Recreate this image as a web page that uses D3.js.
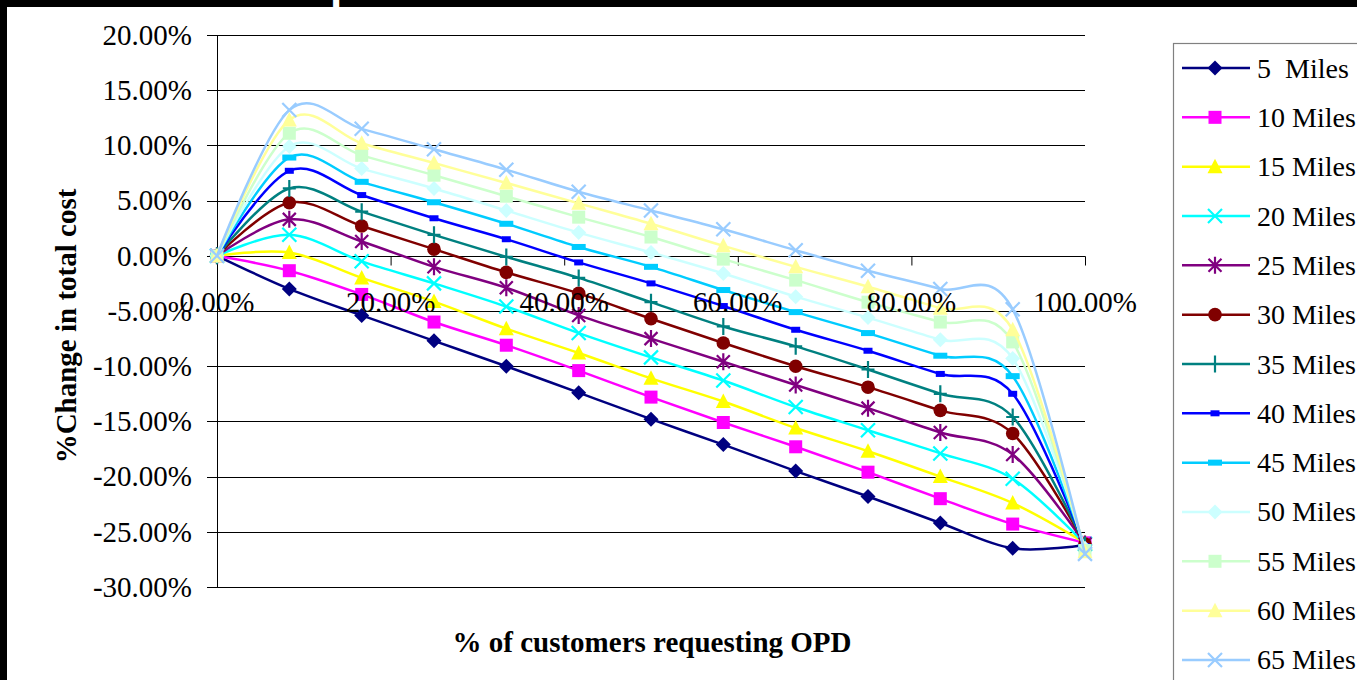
<!DOCTYPE html>
<html>
<head>
<meta charset="utf-8">
<script src="https://cdn.jsdelivr.net/npm/d3@7"></script>
<style>
html,body{margin:0;padding:0;background:#fff;overflow:hidden;}
svg{display:block;}
text{font-family:"Liberation Serif","Times New Roman",serif;}
</style>
</head>
<body>
<svg id="chart" width="1357" height="680"></svg>
<script>
// ---- data ----
const xValues = [0, 8.33, 16.67, 25, 33.33, 41.67, 50, 58.33, 66.67, 75, 83.33, 91.67, 100];
const xTicks = [0, 20, 40, 60, 80, 100];
const yTicks = [20, 15, 10, 5, 0, -5, -10, -15, -20, -25, -30];
const seriesNames = ["5  Miles","10 Miles","15 Miles","20 Miles","25 Miles","30 Miles","35 Miles","40 Miles","45 Miles","50 Miles","55 Miles","60 Miles","65 Miles"];
const miles5  = [0, -3.0, -5.4, -7.7, -10.0, -12.4, -14.8, -17.1, -19.5, -21.8, -24.2, -26.5, -26.2];
const miles10 = [0, -1.35, -3.5, -6.0, -8.1, -10.4, -12.8, -15.1, -17.3, -19.6, -22.0, -24.3, -26.0];
const miles15 = [0, 0.3, -2.0, -4.15, -6.6, -8.8, -11.1, -13.2, -15.6, -17.7, -20.0, -22.4, -26.0];
const miles20 = [0, 1.9, -0.5, -2.5, -4.6, -7.0, -9.2, -11.3, -13.7, -15.8, -17.9, -20.2, -26.1];
const miles25 = [0, 3.3, 1.3, -1.0, -2.9, -5.4, -7.5, -9.6, -11.7, -13.8, -16.0, -18.0, -26.1];
const miles30 = [0, 4.8, 2.7, 0.6, -1.5, -3.4, -5.7, -7.9, -10.0, -11.9, -14.0, -16.1, -26.1];
const miles35 = [0, 6.1, 4.0, 1.9, -0.1, -2.0, -4.2, -6.4, -8.2, -10.3, -12.5, -14.6, -26.2];
const miles40 = [0, 7.7, 5.5, 3.4, 1.5, -0.6, -2.5, -4.55, -6.7, -8.6, -10.7, -12.5, -26.3];
const miles45 = [0, 8.9, 6.7, 4.85, 2.9, 0.8, -1.0, -3.1, -5.1, -7.0, -9.05, -10.9, -26.4];
const miles50 = [0, 9.9, 7.9, 6.1, 4.1, 2.1, 0.3, -1.6, -3.7, -5.6, -7.6, -9.3, -26.5];
const miles55 = [0, 11.1, 9.1, 7.3, 5.4, 3.5, 1.7, -0.3, -2.2, -4.2, -6.0, -7.8, -26.7];
const miles60 = [0, 12.3, 10.2, 8.4, 6.6, 4.75, 2.9, 0.9, -1.0, -2.8, -4.75, -6.7, -26.8];
const miles65 = [0, 13.2, 11.5, 9.65, 7.8, 5.8, 4.1, 2.4, 0.5, -1.35, -3.0, -4.85, -27.0];
const seriesValues = [miles5, miles10, miles15, miles20, miles25, miles30, miles35, miles40, miles45, miles50, miles55, miles60, miles65];
const seriesColors = ["#000080","#FF00FF","#FFFF00","#00FFFF","#800080","#800000","#008080","#0000FF","#00CCFF","#CCFFFF","#CCFFCC","#FFFF99","#99CCFF"];
const seriesMarkers = ["diamond","square","triangle","x","star","circle","plus","dash","longdash","diamond","square","triangle","x"];

// ---- layout ----
const svg = d3.select("#chart");
const plot = {left: 217, right: 1085, top: 35, bottom: 587};
const x = d3.scaleLinear().domain([0, 100]).range([plot.left, plot.right]);
const y = d3.scaleLinear().domain([-30, 20]).range([plot.bottom, plot.top]);

// frame
svg.append("rect").attr("x",0).attr("y",0).attr("width",1357).attr("height",680).attr("fill","#fff");
svg.append("rect").attr("x",0).attr("y",0).attr("width",1357).attr("height",7).attr("fill","#000");
svg.append("rect").attr("x",0).attr("y",0).attr("width",7).attr("height",680).attr("fill","#000");
svg.append("text").attr("x",330).attr("y",-1).attr("fill","#fff")
  .style("font-family","Liberation Sans, Arial, sans-serif").style("font-weight","bold").style("font-size","44px").text("p");

// gridlines
svg.append("g").selectAll("line").data(yTicks).join("line")
  .attr("x1", plot.left - 10).attr("x2", plot.right)
  .attr("y1", d => Math.round(y(d)) + 0.5).attr("y2", d => Math.round(y(d)) + 0.5)
  .attr("stroke", "#000").attr("stroke-width", 1);

// y axis line
svg.append("line").attr("x1", plot.left + 0.5).attr("x2", plot.left + 0.5)
  .attr("y1", plot.top).attr("y2", plot.bottom).attr("stroke", "#000");

// x axis at 0 with ticks downward
const xAxis = d3.axisBottom(x).tickValues(xTicks).tickSize(9).tickFormat("");
const gx = svg.append("g").attr("transform", `translate(0.5,${Math.round(y(0))+0.5})`).call(xAxis);
gx.select(".domain").attr("stroke","#000").attr("d", `M${plot.left},0H${plot.right}`);
gx.selectAll(".tick line").attr("stroke","#000").attr("transform","translate(-0.5,0)");

// series
const line = d3.line().x((d,i) => x(xValues[i])).y(d => y(d)).curve(d3.curveCardinal.tension(0));

function drawMarker(g, type, color, cx, cy) {
  const s = g.append("g").attr("transform", `translate(${cx},${cy})`);
  switch (type) {
    case "diamond":
      s.append("path").attr("d","M0,-7.5L7.5,0L0,7.5L-7.5,0Z").attr("fill",color); break;
    case "square":
      s.append("rect").attr("x",-6.5).attr("y",-6.5).attr("width",13).attr("height",13).attr("fill",color); break;
    case "triangle":
      s.append("path").attr("d","M0,-8L7.5,6.5L-7.5,6.5Z").attr("fill",color); break;
    case "x":
      s.append("path").attr("d","M-7,-7L7,7M-7,7L7,-7").attr("stroke",color).attr("stroke-width",2.2).attr("fill","none"); break;
    case "star":
      s.append("path").attr("d","M-6.5,-6.5L6.5,6.5M-6.5,6.5L6.5,-6.5M0,-8.5L0,8.5").attr("stroke",color).attr("stroke-width",2.2).attr("fill","none"); break;
    case "circle":
      s.append("circle").attr("r",6.8).attr("fill",color); break;
    case "plus":
      s.append("path").attr("d","M0,-8.5L0,8.5M-6.5,0L6.5,0").attr("stroke",color).attr("stroke-width",2.2).attr("fill","none"); break;
    case "dash":
      s.append("rect").attr("x",-4.5).attr("y",-3).attr("width",9).attr("height",6).attr("fill",color); break;
    case "longdash":
      s.append("rect").attr("x",-7).attr("y",-3).attr("width",14).attr("height",6).attr("fill",color); break;
  }
}

const gs = svg.append("g");
seriesValues.forEach((vals, k) => {
  const g = gs.append("g");
  g.append("path").attr("d", line(vals)).attr("fill","none")
    .attr("stroke", seriesColors[k]).attr("stroke-width", 2.5);
  vals.forEach((v, i) => drawMarker(g, seriesMarkers[k], seriesColors[k], x(xValues[i]), y(v)));
});

// tick labels
svg.append("g").selectAll("text").data(yTicks).join("text")
  .attr("x", 192).attr("y", d => y(d)).attr("dy", "0.34em")
  .attr("text-anchor", "end").style("font-size", "29px").attr("fill","#000")
  .text(d => d.toFixed(2) + "%");
svg.append("g").selectAll("text").data(xTicks).join("text")
  .attr("x", d => x(d)).attr("y", 312)
  .attr("text-anchor", "middle").style("font-size", "29px").attr("fill","#000")
  .text(d => d.toFixed(2) + "%");

// axis titles
svg.append("text").attr("x", 652).attr("y", 652).attr("text-anchor","middle")
  .style("font-size","29px").style("font-weight","bold").text("% of customers requesting OPD");
svg.append("text").attr("transform","translate(76,326) rotate(-90)").attr("text-anchor","middle")
  .style("font-size","29px").style("font-weight","bold").text("%Change in total cost");

// legend
const lg = svg.append("g");
lg.append("rect").attr("x", 1173.5).attr("y", 43.5).attr("width", 300).attr("height", 700)
  .attr("fill","#fff").attr("stroke","#808080").attr("stroke-width",1.2);
seriesNames.forEach((name, k) => {
  const cy = 68 + k * 49.33;
  lg.append("line").attr("x1",1182).attr("x2",1250).attr("y1",cy).attr("y2",cy)
    .attr("stroke", seriesColors[k]).attr("stroke-width",2.5);
  drawMarker(lg, seriesMarkers[k], seriesColors[k], 1215, cy);
  lg.append("text").attr("x",1257).attr("y",cy).attr("dy","0.34em")
    .style("font-size","28px").style("white-space","pre").attr("fill","#000").text(name);
});
</script>
</body>
</html>
